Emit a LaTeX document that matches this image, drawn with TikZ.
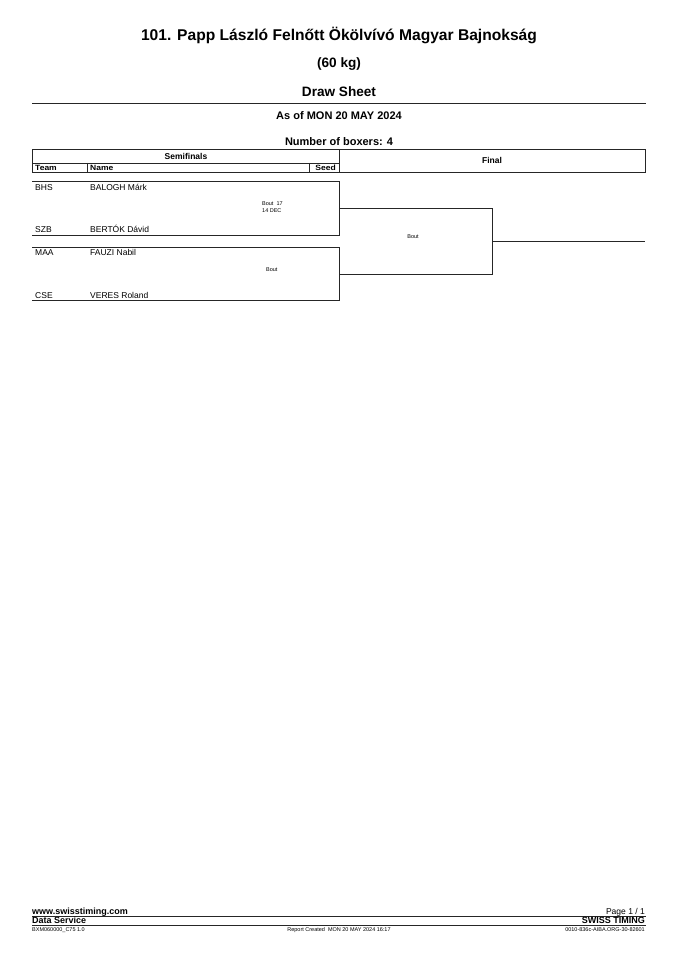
\documentclass[tikz,border=0pt]{standalone}
\usepackage{fontspec}
\setmainfont{Liberation Sans}
\newfontfamily\widesans[FakeStretch=1.12]{Liberation Sans}
\usetikzlibrary{positioning}
\tikzset{
  rule/.style={draw=black!85,line width=0.8pt},
  ttl/.style={font=\bfseries\fontsize{15.6}{18}\selectfont,inner sep=0pt},
  sub/.style={font=\bfseries\fontsize{13.6}{16}\selectfont,inner sep=0pt},
  info/.style={font=\bfseries\fontsize{11}{13}\selectfont,inner sep=0pt},
  hdr/.style={font=\bfseries\fontsize{8.5}{10}\selectfont,inner sep=0pt},
  col/.style={font=\widesans\bfseries\fontsize{7.6}{9}\selectfont,inner sep=0pt},
  ent/.style={font=\fontsize{8.5}{10}\selectfont,inner sep=0pt,anchor=base west},
  bout/.style={font=\fontsize{5.5}{7}\selectfont,inner sep=0pt,align=left},
  tiny/.style={font=\fontsize{5.5}{7}\selectfont,inner sep=0pt}
}
\begin{document}
\begin{tikzpicture}[x=1pt,y=-1pt]
  \useasboundingbox[fill=white] (0,0) rectangle (678,960);

  % heading
  \node[ttl] (title) at (339,35) {101. Papp László Felnőtt Ökölvívó Magyar Bajnokság};
  \node[sub] (weight) at (339,64) {(60 kg)};
  \node[sub] (sheet) at (339,92) {Draw Sheet};
  \coordinate (hl) at (32,103);
  \coordinate (hr) at (646,103);
  \draw[rule] (hl) -- (hr);
  \node[info] (asof) at (339,116) {As of MON 20 MAY 2024};
  \node[info] (count) at (339,142) {Number of boxers: 4};

  %% the table head
  \draw[rule] (32,149) rectangle (339,172);
  \draw[rule] (32,163) -- (339,163);
  \draw[rule] (87,163) -- (87,172);
  \draw[rule] (309,163) -- (309,172);
  \draw[rule] (339,149) rectangle (645,172);
  \node[hdr] (semi) at (186,156) {Semifinals};
  \node[col,anchor=base west] (team) at (35,170.6) {Team};
  \node[col,anchor=base west] (name) at (90,170.6) {Name};
  \node[col,anchor=base east] (seed) at (336,170.6) {Seed};
  \node[hdr] (final) at (492,160.5) {Final};

  %% the boxers
  \foreach \t/\n/\y in {BHS/BALOGH Márk/190,SZB/BERTÓK Dávid/232,
                        MAA/FAUZI Nabil/255,CSE/VERES Roland/298.5}
  {
    \node[ent] (team-\t) at (35,\y) {\t};
    \node[ent] (name-\t) at (90,\y) {\n};
  }

  %% semifinal bouts
  \foreach \i/\top/\bot in {1/181.7/235.7,2/247.3/300.7}
  {
    \coordinate (a\i) at (32,\top);
    \coordinate (b\i) at (339,\top);
    \coordinate (c\i) at (339,\bot);
    \coordinate (d\i) at (32,\bot);
    \draw[rule] (a\i) -- (b\i) -- (c\i) -- (d\i);
  }
  \node[bout,anchor=north west] (bout1) at (262,201.5) {Bout\ \ 17\\14 DEC};
  \node[bout,anchor=west] (bout2) at (266,270) {Bout};

  %% final bout
  \coordinate (f1) at (339,208.5);
  \coordinate (f2) at (492,208.5);
  \coordinate (f3) at (492,274);
  \coordinate (f4) at (339,274);
  \coordinate (fm) at (492,241);
  \coordinate (fe) at (645,241);
  \draw[rule] (f1) -- (f2) -- (f3) -- (f4);
  \draw[rule] (fm) -- (fe);
  \node[bout] (bout3) at (413,236.5) {Bout};

  % footer
  \coordinate (l1) at (32,916);
  \coordinate (r1) at (646,916);
  \coordinate (l2) at (32,925);
  \coordinate (r2) at (646,925);
  \draw[rule] (l1) -- (r1);
  \draw[draw=black!85,line width=0.5pt] (l2) -- (r2);
  \node[hdr,anchor=base west,font=\bfseries\fontsize{9}{10}\selectfont] (web) at (32,914.5) {www.swisstiming.com};
  \node[hdr,anchor=base west,font=\bfseries\fontsize{9}{10}\selectfont] (data) at (32,923.8) {Data Service};
  \node[ent,anchor=base east] (page) at (645,914.5) {Page 1 / 1};
  \node[hdr,anchor=base east,font=\bfseries\fontsize{9}{10}\selectfont] (swiss) at (645,923.8) {SWISS TIMING};
  \node[tiny,anchor=base west] (code) at (32,931.5) {BXM060000\_C75 1.0};
  \node[tiny,anchor=base] (made) at (339,931.5) {Report Created\ \ MON 20 MAY 2024 16:17};
  \node[tiny,anchor=base east] (ref) at (645,931.5) {0010-836c-AIBA.ORG-30-82601};
\end{tikzpicture}
\end{document}
